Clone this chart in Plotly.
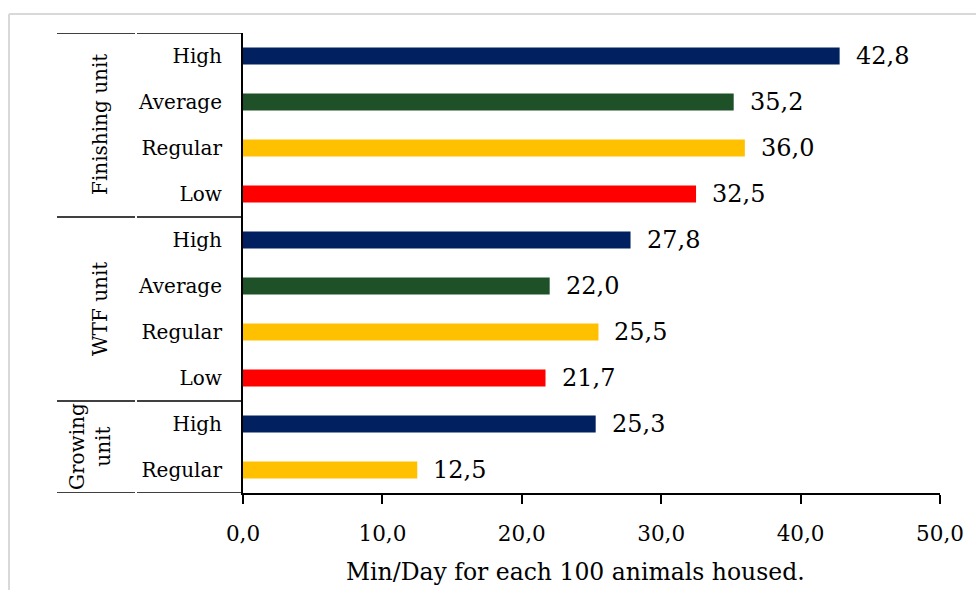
import plotly.graph_objects as go

# Work rate by unit type and performance class
groups = ["Finishing unit", "WTF unit", "Growing<br>unit"]
group_sizes = [4, 4, 2]
classes = ["High", "Average", "Regular", "Low",
           "High", "Average", "Regular", "Low",
           "High", "Regular"]
values = [42.8, 35.2, 36.0, 32.5,
          27.8, 22.0, 25.5, 21.7,
          25.3, 12.5]
class_colors = {"High": "#002060", "Average": "#1E5128",
                "Regular": "#FFC000", "Low": "#FF0000"}
x_ticks = [0, 10, 20, 30, 40, 50]
x_title = "Min/Day for each 100 animals housed."

W, H = 976, 590
L, R, T, B = 243, 36, 33, 97
FONT = "DejaVu Serif"
plot_w = W - L - R
plot_h = H - T - B


def px_x(px):
    """Horizontal pixel position -> paper coordinate."""
    return (px - L) / plot_w


def px_y(py):
    """Vertical pixel position (from top) -> paper coordinate."""
    return 1 - (py - T) / plot_h


def comma(v):
    return f"{v:.1f}".replace(".", ",")


pos = list(range(len(values)))
fig = go.Figure(go.Bar(
    x=values, y=pos, orientation="h",
    marker=dict(color=[class_colors[c] for c in classes], line_width=0),
    width=0.37, hoverinfo="x",
))

# value labels to the right of each bar
for p, v in zip(pos, values):
    fig.add_annotation(x=v, y=p, xref="x", yref="y", text=comma(v),
                       showarrow=False, xanchor="left", xshift=14,
                       font=dict(family=FONT, size=24, color="black"))

# group dividers and rotated group names
black_line = dict(color="black", width=1.5)
bounds = [-0.5]
for n in group_sizes:
    bounds.append(bounds[-1] + n)
for b in bounds:
    fig.add_shape(type="line", xref="paper", yref="y",
                  x0=px_x(57), x1=px_x(135), y0=b, y1=b, line=black_line)
    fig.add_shape(type="line", xref="paper", yref="y",
                  x0=px_x(137), x1=0, y0=b, y1=b, line=black_line)
for g, a, b in zip(groups, bounds[:-1], bounds[1:]):
    fig.add_annotation(x=px_x(100 if "<br>" not in g else 90), y=(a + b) / 2,
                       xref="paper", yref="y", text=g, textangle=-90,
                       showarrow=False, xanchor="center", yanchor="middle",
                       font=dict(family=FONT, size=20, color="black"))

# axis title, centred under the chart area
fig.add_annotation(x=px_x(575), y=px_y(572), xref="paper", yref="paper",
                   text=x_title, showarrow=False,
                   xanchor="center", yanchor="middle",
                   font=dict(family=FONT, size=23.5, color="black"))

# light frame around the chart area
frame = dict(color="#D9D9D9", width=2)
fig.add_shape(type="line", xref="paper", yref="paper",
              x0=px_x(9), x1=px_x(W + 5), y0=px_y(14), y1=px_y(14),
              line=frame)
fig.add_shape(type="line", xref="paper", yref="paper",
              x0=px_x(9), x1=px_x(9), y0=px_y(14), y1=px_y(H + 5),
              line=frame)

fig.update_xaxes(range=[0, 50], tickvals=x_ticks,
                 ticktext=[comma(t) for t in x_ticks],
                 showline=True, linecolor="black", linewidth=2,
                 ticks="outside", ticklen=9, tickwidth=1.5, tickcolor="black",
                 ticklabelstandoff=11,
                 showgrid=False, zeroline=False,
                 tickfont=dict(family=FONT, size=21.5, color="black"))
fig.update_yaxes(range=[9.5, -0.5], tickvals=pos, ticktext=classes,
                 showline=True, linecolor="black", linewidth=2,
                 ticks="", showgrid=False, zeroline=False,
                 ticklabelstandoff=15,
                 tickfont=dict(family=FONT, size=20, color="black"))

fig.update_layout(width=W, height=H, margin=dict(l=L, r=R, t=T, b=B),
                  plot_bgcolor="white", paper_bgcolor="white",
                  showlegend=False, bargap=0.6)

fig.write_html("out.html")
